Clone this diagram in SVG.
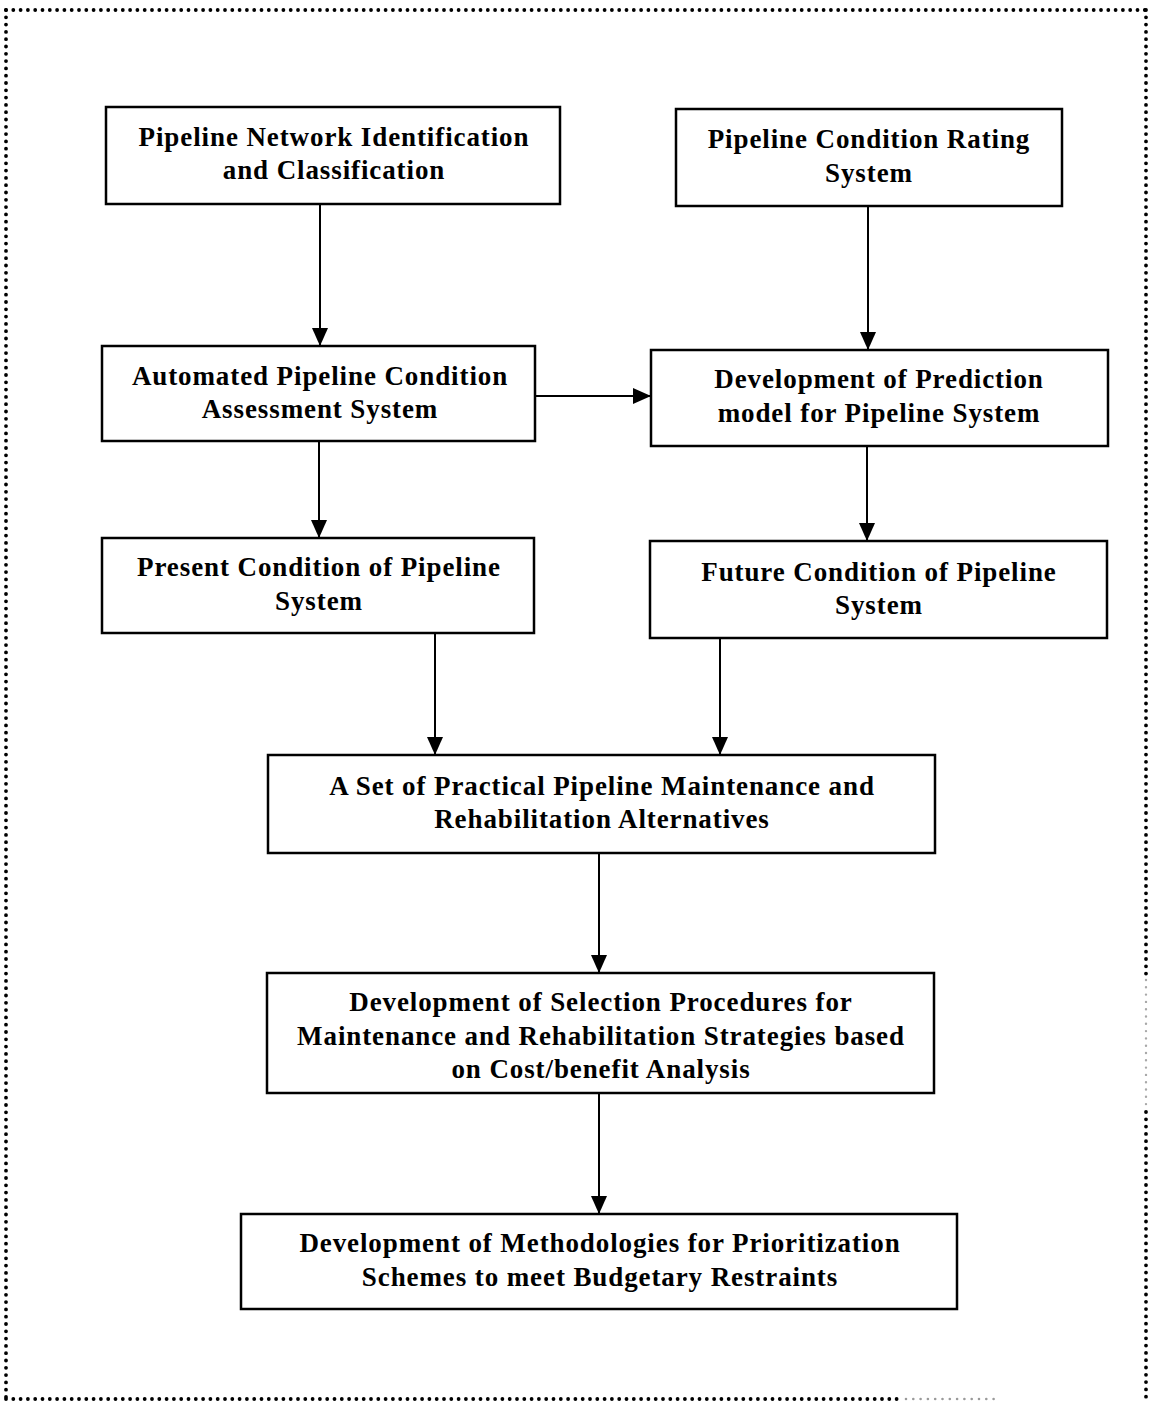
<svg xmlns="http://www.w3.org/2000/svg" width="1149" height="1405" viewBox="0 0 1149 1405">
  <style>
    .box { fill: #ffffff; stroke: #000000; stroke-width: 2.5; }
    .lbl { font-family: "Liberation Serif", "Times New Roman", serif; font-weight: bold; font-size: 27px; letter-spacing: 0.9px; text-anchor: middle; fill: #000000; }
    .edge { stroke: #000000; stroke-width: 2; fill: none; marker-end: url(#head); }
    .frame { stroke: #000000; stroke-width: 3.8; stroke-linecap: round; stroke-dasharray: 0 7.3; fill: none; }
  </style>
  <defs>
    <marker id="head" viewBox="0 0 18 16" refX="18" refY="8" markerWidth="18" markerHeight="16" markerUnits="userSpaceOnUse" orient="auto">
      <path d="M0,0 L18,8 L0,16 Z" fill="#000000"/>
    </marker>
  </defs>

  <rect width="1149" height="1405" fill="#ffffff"/>

  <!-- dotted outer frame -->
  <g id="frame">
    <path class="frame" d="M6,10 L1146,10"/>
    <path class="frame" d="M6,10 L6,1399"/>
    <path class="frame" d="M6,1399 L900,1399"/>
    <path class="frame" d="M906,1399 L1000,1399" style="stroke:#9a9a9a;stroke-width:2.6"/>
    <path class="frame" d="M1146,10 L1146,975"/>
    <path class="frame" d="M1146,980 L1146,1110" style="stroke:#a8a8a8;stroke-width:2.4"/>
    <path class="frame" d="M1146,1112 L1146,1399"/>
  </g>

  <!-- connectors -->
  <g id="connectors">
    <line class="edge" x1="320" y1="204" x2="320" y2="346"/>
    <line class="edge" x1="868" y1="206" x2="868" y2="350"/>
    <line class="edge" x1="535" y1="396" x2="651" y2="396"/>
    <line class="edge" x1="319" y1="441" x2="319" y2="538"/>
    <line class="edge" x1="867" y1="446" x2="867" y2="541"/>
    <line class="edge" x1="435" y1="633" x2="435" y2="755"/>
    <line class="edge" x1="720" y1="638" x2="720" y2="755"/>
    <line class="edge" x1="599" y1="853" x2="599" y2="973"/>
    <line class="edge" x1="599" y1="1093" x2="599" y2="1214"/>
  </g>

  <g id="network-identification">
    <rect class="box" x="106" y="107" width="454" height="97"/>
    <text class="lbl" x="334" y="146">Pipeline Network Identification</text>
    <text class="lbl" x="334" y="179">and Classification</text>
  </g>

  <g id="condition-rating">
    <rect class="box" x="676" y="109" width="386" height="97"/>
    <text class="lbl" x="869" y="148">Pipeline Condition Rating</text>
    <text class="lbl" x="869" y="182">System</text>
  </g>

  <g id="condition-assessment">
    <rect class="box" x="102" y="346" width="433" height="95"/>
    <text class="lbl" x="320" y="385">Automated Pipeline Condition</text>
    <text class="lbl" x="320" y="418">Assessment System</text>
  </g>

  <g id="prediction-model">
    <rect class="box" x="651" y="350" width="457" height="96"/>
    <text class="lbl" x="879" y="388">Development of Prediction</text>
    <text class="lbl" x="879" y="422">model for Pipeline System</text>
  </g>

  <g id="present-condition">
    <rect class="box" x="102" y="538" width="432" height="95"/>
    <text class="lbl" x="319" y="576">Present Condition of Pipeline</text>
    <text class="lbl" x="319" y="610">System</text>
  </g>

  <g id="future-condition">
    <rect class="box" x="650" y="541" width="457" height="97"/>
    <text class="lbl" x="879" y="581">Future Condition of Pipeline</text>
    <text class="lbl" x="879" y="614">System</text>
  </g>

  <g id="alternatives">
    <rect class="box" x="268" y="755" width="667" height="98"/>
    <text class="lbl" x="602" y="795">A Set of Practical Pipeline Maintenance and</text>
    <text class="lbl" x="602" y="828">Rehabilitation Alternatives</text>
  </g>

  <g id="selection-procedures">
    <rect class="box" x="267" y="973" width="667" height="120"/>
    <text class="lbl" x="601" y="1011">Development of Selection Procedures for</text>
    <text class="lbl" x="601" y="1045">Maintenance and Rehabilitation Strategies based</text>
    <text class="lbl" x="601" y="1078">on Cost/benefit Analysis</text>
  </g>

  <g id="prioritization">
    <rect class="box" x="241" y="1214" width="716" height="95"/>
    <text class="lbl" x="600" y="1252">Development of Methodologies for Prioritization</text>
    <text class="lbl" x="600" y="1286">Schemes to meet Budgetary Restraints</text>
  </g>
</svg>
